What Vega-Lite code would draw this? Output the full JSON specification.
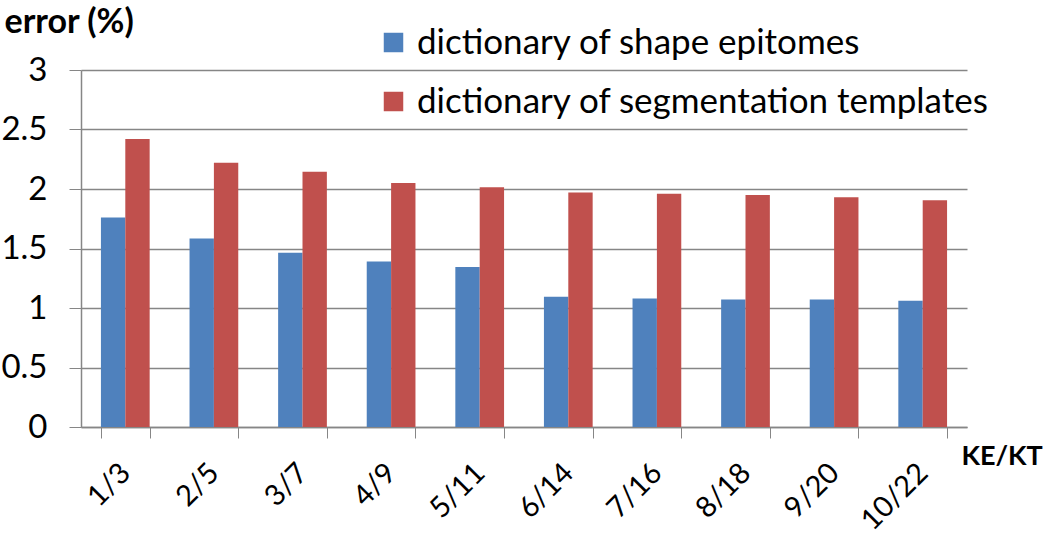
{
  "$schema": "https://vega.github.io/schema/vega-lite/v6.json",
  "autosize": {"type": "none"},
  "width": 886,
  "height": 357,
  "padding": {"left": 81, "top": 70, "right": 83, "bottom": 119},
  "background": "white",
  "config": {
    "font": "Lato",
    "view": {"stroke": null}
  },
  "data": {
    "values": [
      {"k": "1/3", "series": "dictionary of shape epitomes", "error": 1.76},
      {"k": "1/3", "series": "dictionary of segmentation templates", "error": 2.42},
      {"k": "2/5", "series": "dictionary of shape epitomes", "error": 1.585},
      {"k": "2/5", "series": "dictionary of segmentation templates", "error": 2.22},
      {"k": "3/7", "series": "dictionary of shape epitomes", "error": 1.465},
      {"k": "3/7", "series": "dictionary of segmentation templates", "error": 2.145},
      {"k": "4/9", "series": "dictionary of shape epitomes", "error": 1.39},
      {"k": "4/9", "series": "dictionary of segmentation templates", "error": 2.05},
      {"k": "5/11", "series": "dictionary of shape epitomes", "error": 1.345},
      {"k": "5/11", "series": "dictionary of segmentation templates", "error": 2.015},
      {"k": "6/14", "series": "dictionary of shape epitomes", "error": 1.095},
      {"k": "6/14", "series": "dictionary of segmentation templates", "error": 1.97},
      {"k": "7/16", "series": "dictionary of shape epitomes", "error": 1.08},
      {"k": "7/16", "series": "dictionary of segmentation templates", "error": 1.96},
      {"k": "8/18", "series": "dictionary of shape epitomes", "error": 1.072},
      {"k": "8/18", "series": "dictionary of segmentation templates", "error": 1.95},
      {"k": "9/20", "series": "dictionary of shape epitomes", "error": 1.072},
      {"k": "9/20", "series": "dictionary of segmentation templates", "error": 1.93},
      {"k": "10/22", "series": "dictionary of shape epitomes", "error": 1.06},
      {"k": "10/22", "series": "dictionary of segmentation templates", "error": 1.905}
    ]
  },
  "mark": {"type": "bar"},
  "encoding": {
    "x": {
      "field": "k",
      "type": "nominal",
      "sort": null,
      "scale": {"paddingInner": 0.45, "paddingOuter": 0.225},
      "axis": {
        "title": "KE/KT",
        "titleFontSize": 27,
        "titleFontWeight": "bold",
        "titleColor": "black",
        "titleAngle": 0,
        "titleAlign": "left",
        "titleBaseline": "middle",
        "titleX": 880,
        "titleY": 29,
        "labelAngle": -45,
        "labelAlign": "right",
        "labelBaseline": "middle",
        "labelFontSize": 29,
        "labelColor": "black",
        "labelPadding": 30,
        "tickBand": "extent",
        "tickSize": 11,
        "tickColor": "#868686",
        "domainColor": "#868686",
        "domainWidth": 1.5
      }
    },
    "xOffset": {
      "field": "series",
      "type": "nominal",
      "sort": ["dictionary of shape epitomes", "dictionary of segmentation templates"]
    },
    "y": {
      "field": "error",
      "type": "quantitative",
      "scale": {"domain": [0, 3], "nice": false},
      "axis": {
        "values": [0, 0.5, 1, 1.5, 2, 2.5, 3],
        "format": "~g",
        "title": "error (%)",
        "titleFontSize": 34,
        "titleFontWeight": "bold",
        "titleColor": "black",
        "titleAngle": 0,
        "titleAlign": "left",
        "titleBaseline": "alphabetic",
        "titleX": -77,
        "titleY": -38,
        "labelFontSize": 33,
        "labelColor": "black",
        "labelPadding": 22,
        "tickSize": 12,
        "tickColor": "#868686",
        "gridColor": "#868686",
        "gridWidth": 1.3,
        "domainColor": "#868686",
        "domainWidth": 1.5
      }
    },
    "color": {
      "field": "series",
      "type": "nominal",
      "sort": ["dictionary of shape epitomes", "dictionary of segmentation templates"],
      "scale": {"range": ["#4F81BD", "#C0504D"]},
      "legend": {
        "title": null,
        "orient": "none",
        "legendX": 295,
        "legendY": -45,
        "symbolType": "square",
        "symbolSize": 380,
        "symbolStrokeWidth": 0,
        "symbolOpacity": 1,
        "labelFontSize": 35,
        "labelColor": "black",
        "labelOffset": 6,
        "rowPadding": 23,
        "labelLimit": 800
      }
    }
  }
}
